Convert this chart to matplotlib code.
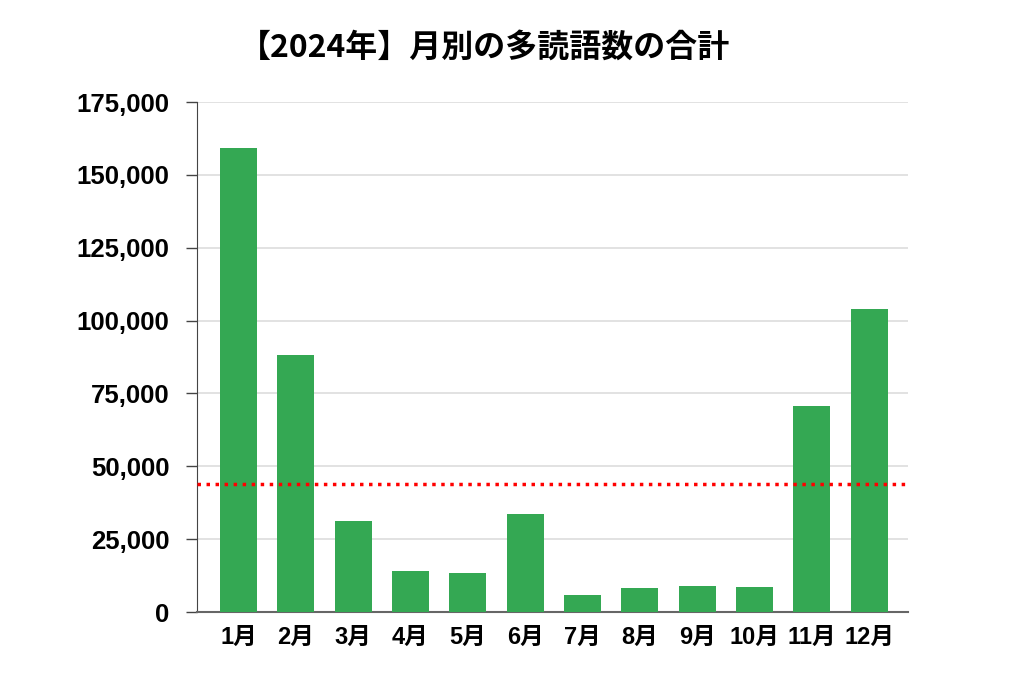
import matplotlib
matplotlib.use("Agg")
import matplotlib.pyplot as plt
from matplotlib.ticker import FuncFormatter

plt.rcParams['font.family'] = ['Liberation Sans', 'Noto Sans CJK JP', 'DejaVu Sans']

# monthly totals
months = ["1月", "2月", "3月", "4月", "5月", "6月",
          "7月", "8月", "9月", "10月", "11月", "12月"]
words = [159200, 88300, 31300, 13900, 13500, 33700,
         5800, 8200, 9000, 8700, 70700, 104000]
ref_line = 44000
y_ticks = [0, 25000, 50000, 75000, 100000, 125000, 150000, 175000]

fig = plt.figure(figsize=(10.24, 6.83), dpi=100)
ax = fig.add_axes([197 / 1024, 1 - 612 / 683, (908 - 197) / 1024, (612 - 102) / 683])

x = range(len(months))
ax.bar(x, words, width=0.645, color="#34A853", zorder=3)
ax.axhline(ref_line, color="red", linestyle=(0, (1, 1.6)), linewidth=2.5, zorder=4)

ax.set_xlim(-0.724, 11.68)
ax.set_ylim(0, 175000)
ax.set_yticks(y_ticks)
ax.yaxis.set_major_formatter(FuncFormatter(lambda v, p: f"{int(v):,}"))
ax.set_xticks(list(x))
ax.set_xticklabels(months)

ax.grid(axis="y", color="#dddddd", linewidth=1.2, zorder=0)
for s in ["top", "right"]:
    ax.spines[s].set_visible(False)
ax.spines["left"].set_color("#444444")
ax.spines["bottom"].set_color("#666666")
ax.spines["bottom"].set_linewidth(1.5)

ax.tick_params(axis="y", length=8, width=1, color="#444444", pad=12, labelsize=18.5)
ax.tick_params(axis="x", length=0, pad=10, labelsize=17)
for lab in ax.get_xticklabels() + ax.get_yticklabels():
    lab.set_fontweight("bold")

fig.text(485 / 1024, 1 - 48 / 683, "【2024年】月別の多読語数の合計",
         ha="center", va="center", fontsize=23, fontweight="bold",
         family=['Noto Sans CJK JP', 'Liberation Sans'])

fig.savefig("out.png", dpi=100)
